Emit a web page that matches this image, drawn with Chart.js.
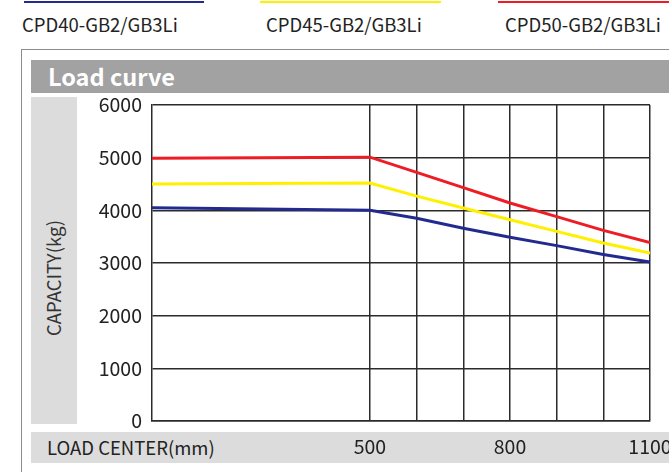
<!DOCTYPE html>
<html>
<head>
<meta charset="utf-8">
<script src="https://cdn.jsdelivr.net/npm/chart.js@4"></script>
<style>
  body { margin: 0; width: 669px; height: 472px; overflow: hidden; background: #fff; position: relative;
         font-family: "Noto Sans CJK SC", "Noto Sans", sans-serif; color: #222; }
  .abs { position: absolute; }
  .legend-line { height: 2px; top: 1px; }
  .legend-text { top: 10px; font-size: 18.5px; line-height: 28px; white-space: nowrap; }
  .frame { left: 21px; top: 49px; width: 700px; height: 500px; border-left: 1.5px solid #8c8c8c; border-top: 1.5px solid #8c8c8c; }
  .header { left: 31px; top: 60px; width: 650px; height: 33px; background: #a2a2a2; color: #fff;
            font-weight: bold; font-size: 23.5px; line-height: 33px; text-indent: 17px; }
  .yband { left: 31px; top: 97px; width: 46px; height: 327px; background: #dcdcdc; }
  .ytitle { left: 53px; top: 278px; font-size: 18.5px; color: #333; white-space: nowrap;
            transform: translate(-50%, -50%) rotate(-90deg); }
  .xband { left: 31px; top: 432px; width: 650px; height: 31px; background: #dcdcdc; font-size: 18.5px;
           line-height: 31px; text-indent: 16px; color: #222; }
  #wrap { left: 0; top: 0; width: 700px; height: 472px; }
</style>
</head>
<body>
<div class="abs frame"></div>
<div class="abs header">Load curve</div>
<div class="abs yband"></div>
<div class="abs ytitle">CAPACITY(kg)</div>
<div class="abs xband">LOAD CENTER(mm)</div>
<div id="legend"></div>
<div class="abs" id="wrap"><canvas id="chart"></canvas></div>
<script>
// left part of the axis is not to scale, the line starts at axisStart
const axisStart = 33;
const loadCenters = [axisStart, 500, 600, 700, 800, 900, 1000, 1100];
const gridTicks = [500, 600, 700, 800, 900, 1000, 1100];
const shownTicks = [500, 800, 1100];

const seriesNames = ["CPD40-GB2/GB3Li", "CPD45-GB2/GB3Li", "CPD50-GB2/GB3Li"];
const cpd40 = [4050, 4000, 3850, 3660, 3490, 3330, 3160, 3020];
const cpd45 = [4500, 4520, 4270, 4045, 3820, 3600, 3380, 3190];
const cpd50 = [4990, 5010, 4720, 4430, 4140, 3880, 3620, 3390];
const colors = ["#232a8f", "#fff000", "#ee1c25"];

// legend: line above text
const legendPos = [[24, 180, 22], [260, 181, 266], [498, 180, 505]];
const legend = document.getElementById("legend");
seriesNames.forEach((name, i) => {
    const [lx, lw, tx] = legendPos[i];
    legend.innerHTML += '<div class="abs legend-line" style="left:' + lx + 'px;width:' + lw +
        'px;background:' + colors[i] + '"></div>' +
        '<div class="abs legend-text" style="left:' + tx + 'px">' + name + '</div>';
});

const seriesData = [cpd40, cpd45, cpd50];
const gridColor = "#2b2b2b";
const tickFont = { family: "Noto Sans CJK SC", size: 19.5 };

new Chart(document.getElementById("chart"), {
    type: "line",
    data: {
        datasets: seriesData.map((vals, i) => ({
            label: seriesNames[i],
            data: vals.map((v, j) => ({ x: loadCenters[j], y: v })),
            borderColor: colors[i],
            borderWidth: 3,
            pointRadius: 0,
            tension: 0,
            fill: false
        }))
    },
    options: {
        responsive: true,
        maintainAspectRatio: false,
        animation: false,
        layout: { padding: { left: 0, right: 50, top: 105, bottom: 0 } },
        plugins: { legend: { display: false }, tooltip: { enabled: false } },
        scales: {
            x: {
                type: "linear",
                min: axisStart,
                max: 1100,
                afterBuildTicks: (s) => { s.ticks = gridTicks.map(v => ({ value: v })); },
                afterFit: (s) => { s.height = 51; },
                ticks: {
                    autoSkip: false,
                    maxRotation: 0,
                    padding: 14,
                    color: "#222",
                    font: tickFont,
                    callback: (v) => shownTicks.includes(v) ? String(v) : ""
                },
                grid: { color: gridColor, lineWidth: 1.5, drawTicks: false },
                border: { color: gridColor, width: 1.5 }
            },
            y: {
                min: 0,
                max: 6000,
                afterFit: (s) => { s.width = 152; },
                ticks: { stepSize: 1000, padding: 10, color: "#222", font: tickFont,
                         callback: (v) => String(v) },
                grid: { color: gridColor, lineWidth: 1.5, drawTicks: false },
                border: { color: gridColor, width: 1.5 }
            }
        }
    }
});
</script>
</body>
</html>
